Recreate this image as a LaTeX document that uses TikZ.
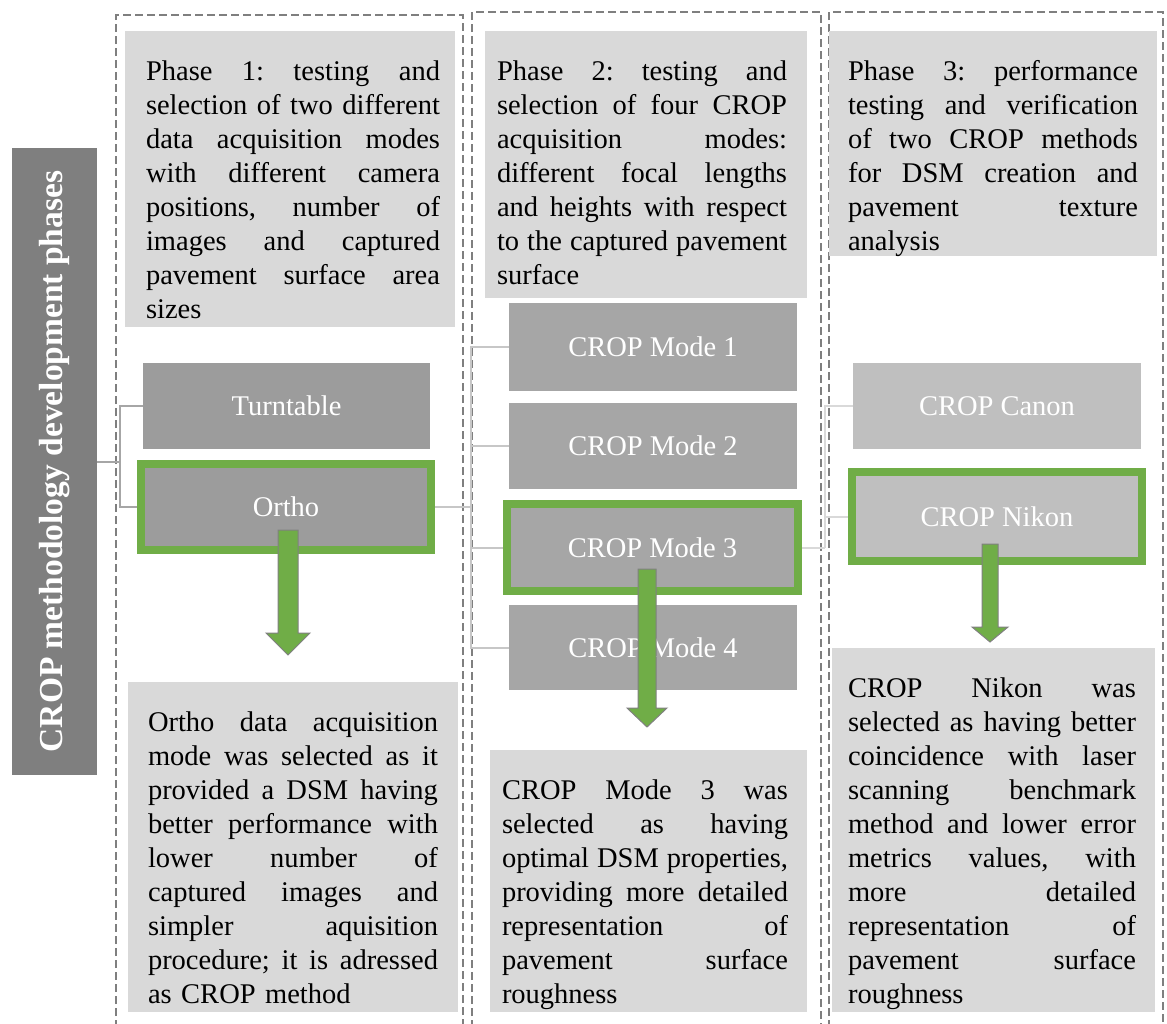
\documentclass[tikz,border=0pt]{standalone}
\usepackage{fontspec}
\setmainfont{Liberation Serif}
\definecolor{hdr}{HTML}{D9D9D9}
\definecolor{barc}{HTML}{7F7F7F}
\definecolor{dkc}{HTML}{9C9C9C}
\definecolor{mdc}{HTML}{A6A6A6}
\definecolor{ltc}{HTML}{BFBFBF}
\definecolor{grn}{HTML}{70AD47}
\definecolor{dash}{HTML}{7F7F7F}
\newcommand\JL[1]{\par\noindent\hbox to\hsize{\spaceskip=.25em plus 1fil\relax\strut #1}\par}
\newcommand\LL[1]{\par\noindent\hbox to\hsize{\strut #1\hfil}\par}
\begin{document}
\begin{tikzpicture}[x=1pt,y=-1pt,
  panel/.style={draw=dash, line width=1.4pt, dash pattern=on 8pt off 4pt},
  hbox/.style={fill=hdr, inner sep=0, outer sep=0},
  txt/.style={anchor=north west, inner sep=0, outer sep=0, text width=#1,
    font=\fontsize{28.5}{34}\selectfont\frenchspacing},
  sbox/.style={fill=#1, inner sep=0, outer sep=0, text=white,
    font=\fontsize{28.5}{34}\selectfont},
  gbox/.style={fill=#1, draw=grn, line width=8pt, inner sep=0, text=white,
    font=\fontsize{28.5}{34}\selectfont},
  conn/.style={draw=#1, line width=2pt},
  barrow/.style={fill=grn, draw=gray, line width=1pt, line join=miter}
]
\useasboundingbox (0,0) rectangle (1167,1023);

% dashed phase panels
\draw[panel] (116,1040) -- (116,15) -- (463,15) -- (463,1040);
\draw[panel] (472,1040) -- (472,12) -- (821,12) -- (821,1040);
\draw[panel] (829,1040) -- (829,12) -- (1163,12) -- (1163,1040);

% left bar
\node[fill=barc, inner sep=0, outer sep=0, minimum width=85, minimum height=627] (bar) at (54.5,461.5) {};
\node[rotate=90, text=white, font=\bfseries\fontsize{33.5}{40}\selectfont] (bartext) at (bar.center) {CROP methodology development phases};

% header and result boxes
\node[hbox, minimum width=330, minimum height=296] (h1) at (290,179) {};
\node[hbox, minimum width=330, minimum height=330] (r1) at (293,847) {};
\node[hbox, minimum width=322, minimum height=267] (h2) at (646,164.5) {};
\node[hbox, minimum width=317, minimum height=262] (r2) at (648.5,881) {};
\node[hbox, minimum width=328, minimum height=225] (h3) at (993,143.5) {};
\node[hbox, minimum width=323, minimum height=364] (r3) at (993.5,830) {};

\node[txt=294] (h1t) at (146,46.2) {%
\JL{Phase 1: testing and}
\JL{selection of two different}
\JL{data acquisition modes}
\JL{with different camera}
\JL{positions, number of}
\JL{images and captured}
\JL{pavement surface area}
\LL{sizes}};

\node[txt=290] (r1t) at (148,697.2) {%
\JL{Ortho data acquisition}
\JL{mode was selected as it}
\JL{provided a DSM having}
\JL{better performance with}
\JL{lower number of}
\JL{captured images and}
\JL{simpler aquisition}
\JL{procedure; it is adressed}
\LL{as CROP method}};

\node[txt=290] (h2t) at (497,46.2) {%
\JL{Phase 2: testing and}
\JL{selection of four CROP}
\JL{acquisition modes:}
\JL{different focal lengths}
\JL{and heights with respect}
\JL{to the captured pavement}
\LL{surface}};

\node[txt=286] (r2t) at (502,765.2) {%
\JL{CROP Mode 3 was}
\JL{selected as having}
\JL{optimal DSM properties,}
\JL{providing more detailed}
\JL{representation of}
\JL{pavement surface}
\LL{roughness}};

\node[txt=290] (h3t) at (848,46.2) {%
\JL{Phase 3: performance}
\JL{testing and verification}
\JL{of two CROP methods}
\JL{for DSM creation and}
\JL{pavement texture}
\LL{analysis}};

\node[txt=288] (r3t) at (848,663.2) {%
\JL{CROP Nikon was}
\JL{selected as having better}
\JL{coincidence with laser}
\JL{scanning benchmark}
\JL{method and lower error}
\JL{metrics values, with}
\JL{more detailed}
\JL{representation of}
\JL{pavement surface}
\LL{roughness}};

% method boxes
\node[sbox=dkc, minimum width=287, minimum height=86] (turn) at (286.5,406) {Turntable};
\node[gbox=dkc, minimum width=290, minimum height=86] (ortho) at (286,507) {Ortho};
\node[sbox=mdc, minimum width=288, minimum height=88] (m1) at (653,347) {CROP Mode 1};
\node[sbox=mdc, minimum width=288, minimum height=86] (m2) at (653,446) {CROP Mode 2};
\node[gbox=mdc, minimum width=291, minimum height=87] (m3) at (652.5,547.5) {CROP Mode 3};
\node[sbox=mdc, minimum width=288, minimum height=85] (m4) at (653,647.5) {CROP Mode 4};
\node[sbox=ltc, minimum width=288, minimum height=86] (canon) at (997,406) {CROP Canon};
\node[gbox=ltc, minimum width=290, minimum height=89] (nikon) at (997,516.5) {CROP Nikon};

% connectors
\coordinate (j1) at (120,461.5);
\draw[conn=mdc] (bar.east) -- (j1);
\draw[conn=mdc] (turn.west) -| (j1) |- (ortho.west);

\coordinate (j2) at (471,507);
\draw[conn=hdr!80!gray] (ortho.east) -- (j2);
\draw[conn=hdr!80!gray] (m1.west) -| (j2) |- (m4.west);
\draw[conn=hdr!80!gray] (m2.west) -- (j2 |- m2.west);
\draw[conn=hdr!80!gray] (m3.west) -- (j2 |- m3.west);

\coordinate (j3) at (825,547.5);
\draw[conn=hdr] (m3.east) -- (j3);
\draw[conn=hdr] (canon.west) -| (j3);
\draw[conn=hdr] (nikon.west) -- (j3 |- nikon.west);

% block arrows
\draw[barrow] (278,530) -- (298,530) -- (298,633) -- (310,633) -- (288,655) -- (266,633) -- (278,633) -- cycle;
\draw[barrow] (638,569) -- (656,569) -- (656,708) -- (667,708) -- (647,727) -- (627,708) -- (638,708) -- cycle;
\draw[barrow] (982,544) -- (998,544) -- (998,627) -- (1008,627) -- (990,642) -- (972,627) -- (982,627) -- cycle;
\end{tikzpicture}
\end{document}
